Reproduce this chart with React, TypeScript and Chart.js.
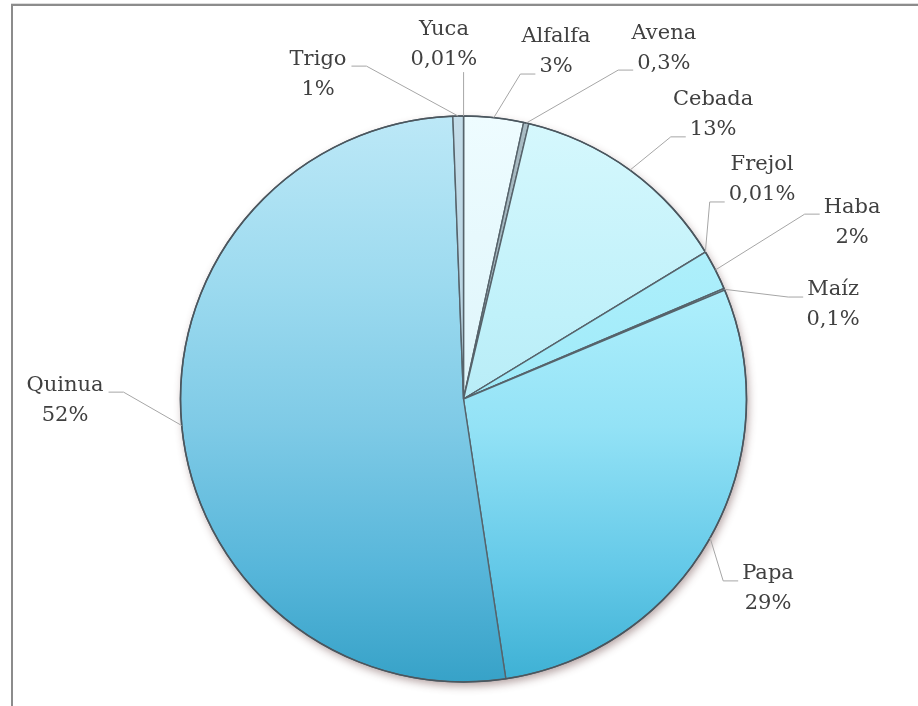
import React, { useEffect, useRef } from "react";
import { Chart, registerables } from "chart.js";

Chart.register(...registerables);

// ---------- data ----------
const categories = ["Yuca", "Alfalfa", "Avena", "Cebada", "Frejol", "Haba", "Maíz", "Papa", "Quinua", "Trigo"];
const shares = [0.01, 3.4, 0.3, 12.6, 0.01, 2.3, 0.1, 28.9, 51.8, 0.6];
const percentLabels = ["0,01%", "3%", "0,3%", "13%", "0,01%", "2%", "0,1%", "29%", "52%", "1%"];

// ---------- styles ----------
const PIE_RADIUS = 283;
// vertical gradient stops per slice (top of pie -> bottom of pie)
const sliceGradients: [number, string][][] = [
  [[0, "#bfe9f7"], [1, "#9ed8ec"]], // Yuca
  [[0, "#eefcff"], [1, "#cdeef6"]], // Alfalfa
  [[0, "#a9bcc4"], [1, "#8ea4ae"]], // Avena
  [[0, "#d6f8fd"], [0.35, "#c0f1fa"], [1, "#a0ddec"]], // Cebada
  [[0, "#b8f2fc"], [1, "#9ee6f6"]], // Frejol
  [[0, "#bdf4fd"], [0.5, "#9eeaf9"], [1, "#84daf1"]], // Haba
  [[0, "#c8f6fd"], [1, "#a8ecfa"]], // Maíz
  [[0, "#d0f8ff"], [0.35, "#aaedfb"], [0.55, "#93e2f6"], [0.8, "#64c9e8"], [1, "#3db0d4"]], // Papa
  [[0, "#bce8f7"], [0.3, "#9cdaef"], [0.55, "#7ecae6"], [0.8, "#57b6da"], [1, "#37a2c8"]], // Quinua
  [[0, "#c4dde9"], [1, "#a9c9d9"]], // Trigo
];

// label block centre relative to the pie centre, in units of the radius;
// attach: index of the text line the leader joins, -1 = straight up to the block
const labelLayout = [
  { dx: -0.069, dy: -1.254, attach: -1 },
  { dx: 0.327, dy: -1.226, attach: 1 },
  { dx: 0.708, dy: -1.24, attach: 1 },
  { dx: 0.882, dy: -1.004, attach: 1 },
  { dx: 1.055, dy: -0.774, attach: 1 },
  { dx: 1.373, dy: -0.625, attach: 0 },
  { dx: 1.306, dy: -0.332, attach: 0 },
  { dx: 1.076, dy: 0.671, attach: 0 },
  { dx: -1.408, dy: 0.004, attach: 0 },
  { dx: -0.514, dy: -1.148, attach: 0 },
];

const TEXT_COLOR = "#404040";
const LEADER_COLOR = "#a6a6a6";
const LINE_H = 30;
const FONT = "21px 'DejaVu Serif'";

const shadowPlugin = {
  id: "pieShadow",
  beforeDatasetsDraw(chart: any) {
    const meta = chart.getDatasetMeta(0);
    const el = meta.data[0];
    if (!el) return;
    const { x, y, outerRadius } = el.getProps(["x", "y", "outerRadius"], true);
    const ctx = chart.ctx;
    ctx.save();
    ctx.beginPath();
    ctx.arc(x, y, outerRadius, 0, Math.PI * 2);
    ctx.shadowColor = "rgba(90,50,50,0.45)";
    ctx.shadowBlur = 9;
    ctx.shadowOffsetX = 2;
    ctx.shadowOffsetY = 4;
    ctx.fillStyle = "#ffffff";
    ctx.fill();
    ctx.restore();
  },
  afterDatasetsDraw(chart: any) {
    const meta = chart.getDatasetMeta(0);
    const el = meta.data[0];
    if (!el) return;
    const { x, y, outerRadius } = el.getProps(["x", "y", "outerRadius"], true);
    const ctx = chart.ctx;
    ctx.save();
    ctx.beginPath();
    ctx.arc(x, y, outerRadius, 0, Math.PI * 2);
    ctx.strokeStyle = "#4a565e";
    ctx.lineWidth = 1.6;
    ctx.stroke();
    ctx.restore();
  },
};

const labelPlugin = {
  id: "calloutLabels",
  afterDatasetsDraw(chart: any) {
    const ctx = chart.ctx;
    const meta = chart.getDatasetMeta(0);
    ctx.save();
    ctx.font = FONT;
    ctx.textBaseline = "middle";
    ctx.textAlign = "center";
    meta.data.forEach((el: any, i: number) => {
      const { x, y, startAngle, endAngle, outerRadius } = el.getProps(
        ["x", "y", "startAngle", "endAngle", "outerRadius"],
        true
      );
      const mid = (startAngle + endAngle) / 2;
      const ax = x + Math.cos(mid) * outerRadius;
      const ay = y + Math.sin(mid) * outerRadius;
      const L = labelLayout[i];
      const cx = x + L.dx * outerRadius;
      const cy = y + L.dy * outerRadius;
      const lines = [categories[i], percentLabels[i]];
      const lineYs = [cy - LINE_H / 2, cy + LINE_H / 2];

      ctx.strokeStyle = LEADER_COLOR;
      ctx.lineWidth = 1;
      ctx.beginPath();
      if (L.attach < 0) {
        ctx.moveTo(ax, ay);
        ctx.lineTo(ax, lineYs[1] + 13);
      } else {
        const w = ctx.measureText(lines[L.attach]).width;
        const ly = lineYs[L.attach] + 7;
        const toRight = cx > ax;
        const endX = toRight ? cx - w / 2 - 4 : cx + w / 2 + 5;
        const elbowX = toRight ? endX - 15 : endX + 15;
        ctx.moveTo(ax, ay);
        ctx.lineTo(elbowX, ly);
        ctx.lineTo(endX, ly);
      }
      ctx.stroke();

      ctx.fillStyle = TEXT_COLOR;
      lines.forEach((t, k) => ctx.fillText(t, cx, lineYs[k]));
    });
    ctx.restore();
  },
};

export default function App() {
  const canvasRef = useRef<HTMLCanvasElement | null>(null);

  useEffect(() => {
    const canvas = canvasRef.current;
    if (!canvas) return;
    const chart = new Chart(canvas, {
      type: "pie",
      data: {
        labels: categories,
        datasets: [
          {
            data: shares,
            backgroundColor: (c: any) => {
              const ch = c.chart;
              const i = c.dataIndex;
              const stops = sliceGradients[i] || [[0, "#9ed8ec"]];
              const area = ch.chartArea;
              if (!area) return stops[stops.length - 1][1];
              const cy = (area.top + area.bottom) / 2;
              const g = ch.ctx.createLinearGradient(0, cy - PIE_RADIUS, 0, cy + PIE_RADIUS);
              stops.forEach(([p, col]) => g.addColorStop(p, col));
              return g;
            },
            borderColor: "#56636b",
            borderWidth: 1.4,
          },
        ],
      },
      options: {
        responsive: false,
        animation: false,
        radius: PIE_RADIUS,
        layout: { padding: { left: 150, right: 141, top: 100, bottom: 8 } },
        plugins: {
          legend: { display: false },
          tooltip: { enabled: false },
        },
      },
      plugins: [shadowPlugin, labelPlugin],
    });
    return () => chart.destroy();
  }, []);

  return (
    <div
      style={{
        position: "fixed",
        left: 0,
        top: 0,
        width: 918,
        height: 706,
        background: "#ffffff",
        overflow: "hidden",
      }}
    >
      <div
        style={{
          position: "absolute",
          left: 11,
          top: 4,
          width: 1000,
          height: 900,
          borderLeft: "2px solid #8c8c8c",
          borderTop: "2px solid #8c8c8c",
          boxShadow: "0 -1px 0 #dddddd",
        }}
      />
      <canvas
        ref={canvasRef}
        width={918}
        height={706}
        style={{ position: "absolute", left: 0, top: 0, width: 918, height: 706 }}
      />
    </div>
  );
}
